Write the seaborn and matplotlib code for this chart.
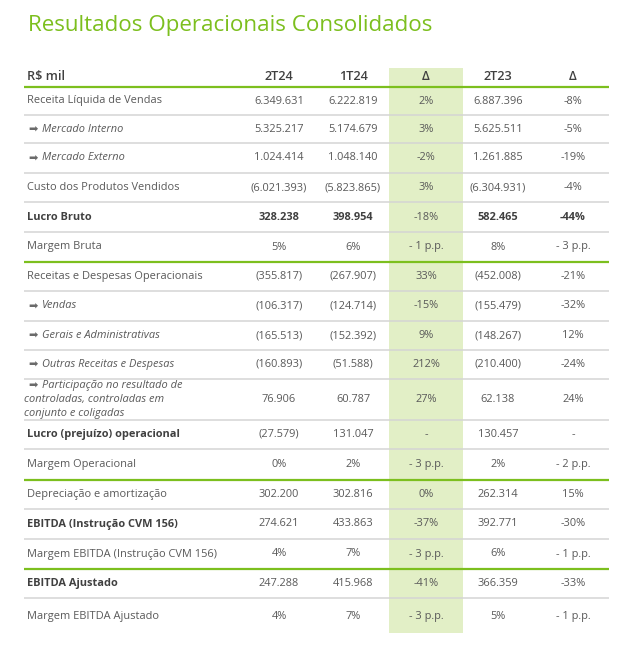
import matplotlib
matplotlib.use("Agg")
import matplotlib.pyplot as plt
import seaborn as sns

# ---------------- data ----------------
title = "Resultados Operacionais Consolidados"
headers = ["R$ mil", "2T24", "1T24", "Δ", "2T23", "Δ"]
labels = [
    "Receita Líquida de Vendas",
    "Mercado Interno",
    "Mercado Externo",
    "Custo dos Produtos Vendidos",
    "Lucro Bruto",
    "Margem Bruta",
    "Receitas e Despesas Operacionais",
    "Vendas",
    "Gerais e Administrativas",
    "Outras Receitas e Despesas",
    "Participação no resultado de\ncontroladas, controladas em\nconjunto e coligadas",
    "Lucro (prejuízo) operacional",
    "Margem Operacional",
    "Depreciação e amortização",
    "EBITDA (Instrução CVM 156)",
    "Margem EBITDA (Instrução CVM 156)",
    "EBITDA Ajustado",
    "Margem EBITDA Ajustado",
]
col_2t24 = ["6.349.631", "5.325.217", "1.024.414", "(6.021.393)", "328.238", "5%",
            "(355.817)", "(106.317)", "(165.513)", "(160.893)", "76.906", "(27.579)", "0%",
            "302.200", "274.621", "4%", "247.288", "4%"]
col_1t24 = ["6.222.819", "5.174.679", "1.048.140", "(5.823.865)", "398.954", "6%",
            "(267.907)", "(124.714)", "(152.392)", "(51.588)", "60.787", "131.047", "2%",
            "302.816", "433.863", "7%", "415.968", "7%"]
delta_q = ["2%", "3%", "-2%", "3%", "-18%", "- 1 p.p.",
           "33%", "-15%", "9%", "212%", "27%", "-", "- 3 p.p.",
           "0%", "-37%", "- 3 p.p.", "-41%", "- 3 p.p."]
col_2t23 = ["6.887.396", "5.625.511", "1.261.885", "(6.304.931)", "582.465", "8%",
            "(452.008)", "(155.479)", "(148.267)", "(210.400)", "62.138", "130.457", "2%",
            "262.314", "392.771", "6%", "366.359", "5%"]
delta_y = ["-8%", "-5%", "-19%", "-4%", "-44%", "- 3 p.p.",
           "-21%", "-32%", "12%", "-24%", "24%", "-", "- 2 p.p.",
           "15%", "-30%", "- 1 p.p.", "-33%", "- 1 p.p."]
sub_item = [False, True, True, False, False, False,
            False, True, True, True, True, False, False,
            False, False, False, False, False]
bold_label = [False, False, False, False, True, False,
              False, False, False, False, False, True, False,
              False, True, False, True, False]
bold_values = [False, False, False, False, True, False,
               False, False, False, False, False, False, False,
               False, False, False, False, False]
# rows after which a green separator is drawn
green_after = ["Margem Bruta", "Margem Operacional", "Margem EBITDA (Instrução CVM 156)"]

# ---------------- style / layout ----------------
sns.set_theme(style="white")
plt.rcParams["font.family"] = ["Open Sans", "DejaVu Sans"]

GREEN = "#7cbf1e"
HIGHLIGHT = "#e2efc6"
TXT = "#595959"
TXT_B = "#404040"
GRID = "#d4d4d4"
FS = 7.9
FS_H = 9.2

W, H = 628, 647
fig = plt.figure(figsize=(W / 100, H / 100), dpi=100)
ax = fig.add_axes([0, 0, 1, 1])
ax.set_xlim(0, W)
ax.set_ylim(H, 0)
ax.axis("off")

x_left, x_right = 24, 609
col_x = [279, 353, 426, 498, 573]
row_h = [28, 28, 30, 29, 30, 30, 29, 30, 29, 29, 41, 29, 31, 29, 30, 30, 29, 37]
y_top = 87

# highlight column
ax.add_patch(plt.Rectangle((389, 68), 74, 565, color=HIGHLIGHT, lw=0, zorder=0))

# title
ax.text(28, 25, title, color=GREEN, fontsize=16.1, va="center", ha="left")

# header
hy = 77
ax.text(27, hy, headers[0], color=TXT_B, fontsize=FS_H, fontweight="semibold", va="center", ha="left")
for cx, h in zip(col_x, headers[1:]):
    ax.text(cx, hy, h, color=TXT_B, fontsize=FS_H, fontweight="semibold", va="center", ha="center")
ax.plot([x_left, x_right], [y_top, y_top], color=GREEN, lw=1.6, solid_capstyle="butt", zorder=2)

y = y_top
columns = [col_2t24, col_1t24, delta_q, col_2t23, delta_y]
n = len(labels)
for i in range(n):
    h = row_h[i]
    yc = y + h / 2
    lab = labels[i]
    color = TXT_B if bold_label[i] else TXT
    weight = "bold" if bold_label[i] else "normal"
    if sub_item[i]:
        parts = lab.split("\n")
        if len(parts) == 1:
            ax.text(28, yc + 0.5, "➡", family="DejaVu Sans", fontsize=8, color="#6a6a6a",
                    va="center", ha="left")
            ax.text(42, yc, lab, color=TXT, fontsize=FS, style="italic", va="center", ha="left")
        else:
            ly = [yc - 14, yc, yc + 14]
            ax.text(28, ly[0] + 0.5, "➡", family="DejaVu Sans", fontsize=8, color="#6a6a6a",
                    va="center", ha="left")
            ax.text(42, ly[0], parts[0], color=TXT, fontsize=FS, style="italic", va="center", ha="left")
            for k in (1, 2):
                ax.text(24, ly[k], parts[k], color=TXT, fontsize=FS, style="italic",
                        va="center", ha="left")
    else:
        ax.text(27, yc, lab, color=color, fontsize=FS, fontweight=weight, va="center", ha="left")
    for j, (cx, col) in enumerate(zip(col_x, columns)):
        bw = "bold" if (bold_values[i] and j in (0, 1, 3, 4)) else "normal"
        cc = TXT_B if bw == "bold" else TXT
        ax.text(cx, yc, col[i], color=cc, fontsize=FS, fontweight=bw, va="center", ha="center")
    y += h
    if i < n - 1:
        if lab in green_after:
            ax.plot([x_left, x_right], [y, y], color=GREEN, lw=1.6, solid_capstyle="butt", zorder=2)
        else:
            ax.plot([x_left, x_right], [y, y], color=GRID, lw=1.1, solid_capstyle="butt", zorder=1)

fig.savefig("out.png", dpi=100, facecolor="white")
